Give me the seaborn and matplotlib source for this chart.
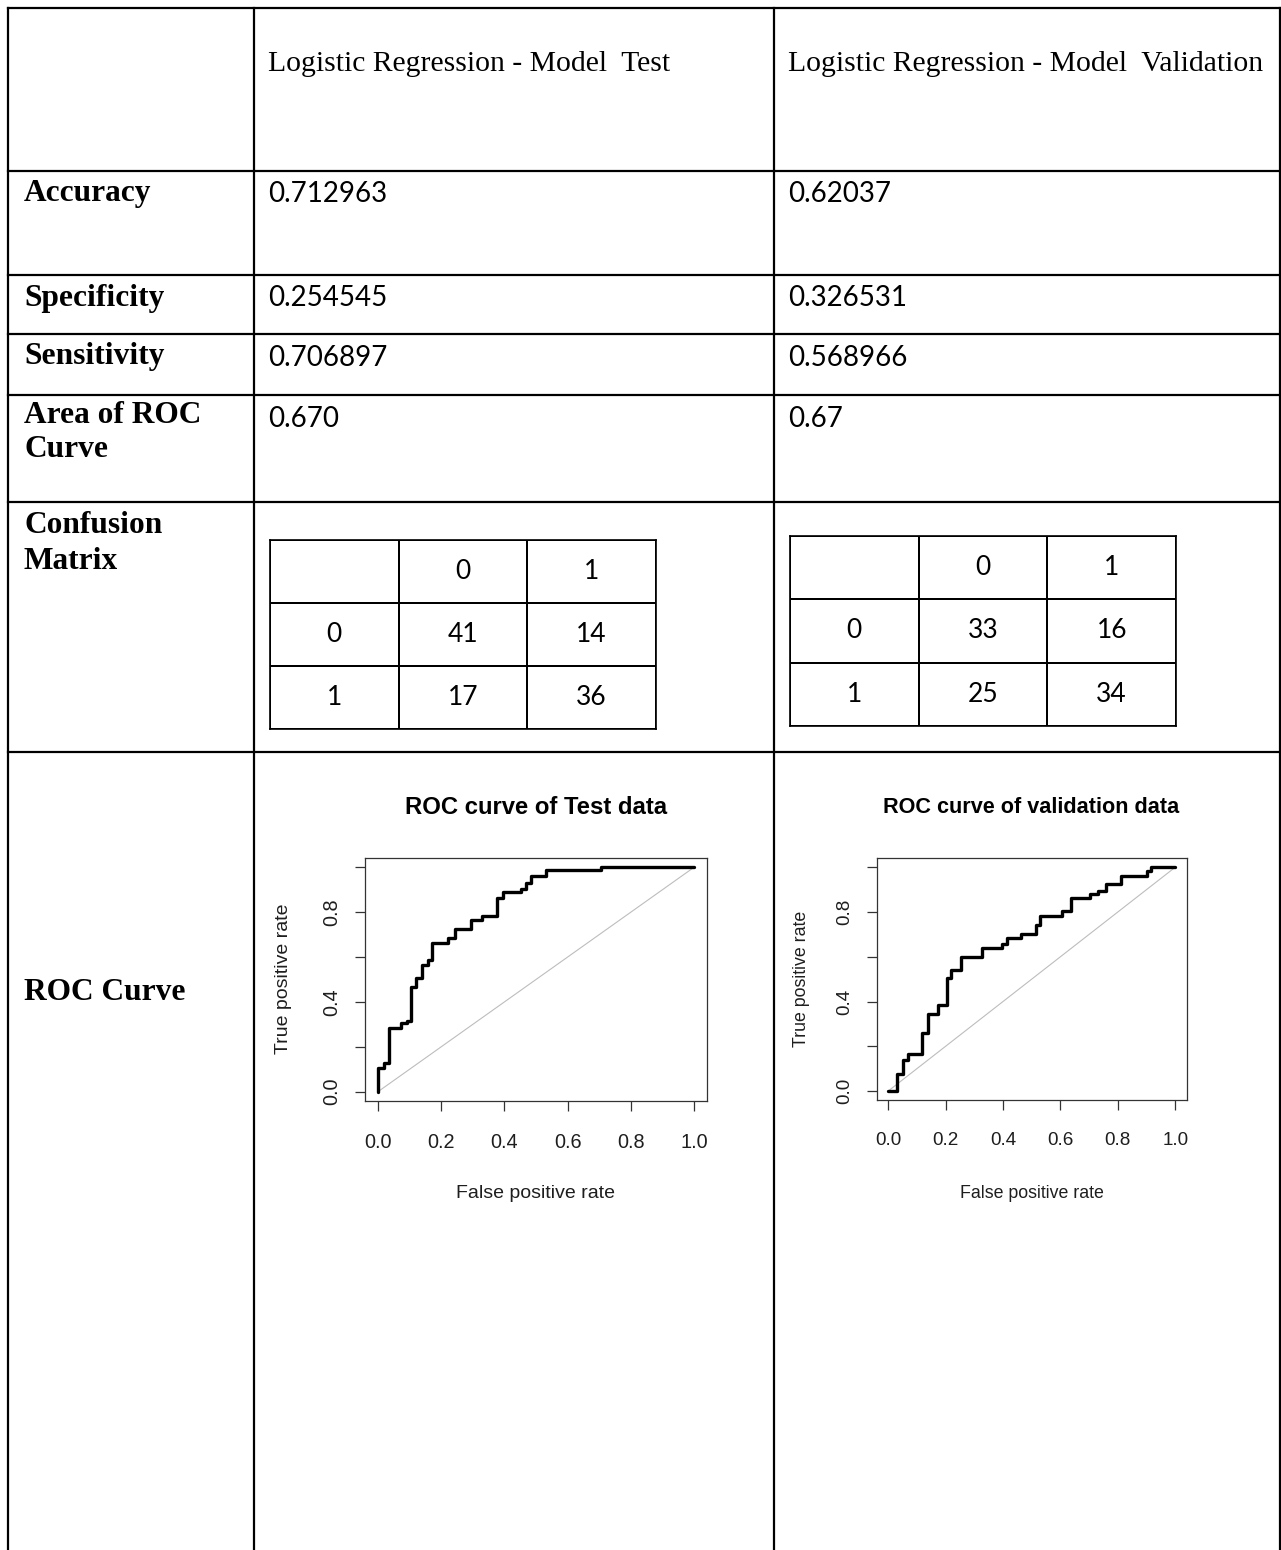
import numpy as np
import matplotlib
matplotlib.use("Agg")
import matplotlib.pyplot as plt
from matplotlib.colors import ListedColormap
import seaborn as sns

# ---- table content -------------------------------------------------------
col_headers = ["Logistic Regression - Model  Test", "Logistic Regression - Model  Validation"]
metric_names = ["Accuracy", "Specificity", "Sensitivity", "Area of ROC\nCurve"]
test_values = ["0.712963", "0.254545", "0.706897", "0.670"]
valid_values = ["0.62037", "0.326531", "0.568966", "0.67"]
cm_labels = ["0", "1"]
test_cm = [[41, 14], [17, 36]]
valid_cm = [[33, 16], [25, 34]]

# ---- ROC curves (step vertices: fpr where TPR rises, new TPR) -------------
test_fpr = [0.0, 0.0, 0.019, 0.035, 0.072, 0.093, 0.103, 0.119, 0.140, 0.159, 0.172,
            0.223, 0.243, 0.293, 0.329, 0.378, 0.397, 0.451, 0.467, 0.483, 0.533, 0.705, 1.0]
test_tpr = [0.0, 0.104, 0.129, 0.285, 0.305, 0.317, 0.465, 0.506, 0.565, 0.587, 0.662,
            0.684, 0.724, 0.764, 0.784, 0.865, 0.888, 0.904, 0.929, 0.962, 0.986, 1.0, 1.0]
valid_fpr = [0.0, 0.031, 0.052, 0.070, 0.118, 0.139, 0.172, 0.205, 0.220, 0.255, 0.327, 0.397,
             0.414, 0.464, 0.516, 0.530, 0.607, 0.636, 0.704, 0.731, 0.760, 0.810, 0.903, 0.914, 1.0]
valid_tpr = [0.0, 0.077, 0.137, 0.164, 0.261, 0.343, 0.383, 0.505, 0.539, 0.599, 0.641, 0.659,
             0.684, 0.703, 0.741, 0.781, 0.805, 0.863, 0.882, 0.894, 0.924, 0.961, 0.984, 1.0, 1.0]
roc_titles = ["ROC curve of Test data", "ROC curve of validation data"]

sns.set_style("white")
plt.rcParams["font.family"] = ["DejaVu Sans"]
plt.rcParams["text.color"] = "black"

W, H = 1281, 1550
DPI = 100
fig = plt.figure(figsize=(W / DPI, H / DPI), dpi=DPI)
fig.patch.set_facecolor("white")


def frac_box(left, top, right, bottom):
    return [left / W, 1 - bottom / H, (right - left) / W, (bottom - top) / H]


# background axes in pixel units for the table grid and cell text
bg = fig.add_axes([0, 0, 1, 1])
bg.set_xlim(0, W)
bg.set_ylim(H, 0)
bg.axis("off")

LW = 1.6
x_left, x_c1, x_c2, x_right = 8, 254, 774, 1280
y_top = 8
row_lines = [171, 275, 334, 395, 502, 752]
for y in [y_top] + row_lines:
    bg.plot([x_left, x_right], [y, y], color="black", lw=LW, solid_capstyle="projecting")
for x in [x_left, x_c1, x_c2, x_right]:
    bg.plot([x, x], [y_top, H], color="black", lw=LW, solid_capstyle="projecting")

serif = ["Liberation Serif", "DejaVu Serif"]
sans_val = ["Lato", "DejaVu Sans"]
BOLD_FS = 22.6

# column headers
bg.text(268, 71, col_headers[0], family=serif, fontsize=21.3, va="baseline", ha="left",
        color="black")
bg.text(788, 71, col_headers[1], family=serif, fontsize=21.3, va="baseline", ha="left",
        color="black")

# metric rows
label_baselines = [200.7, 305.7, 364.0, 423.3]
value_baselines = [202.5, 305.7, 366.0, 426.7]
for name, yb, yv, tv, vv in zip(metric_names, label_baselines, value_baselines,
                                test_values, valid_values):
    for k, line in enumerate(name.split("\n")):
        bg.text(24, yb + 33.4 * k, line, family=serif, fontweight="bold", fontsize=BOLD_FS,
                va="baseline", ha="left", color="black")
    bg.text(268, yv, tv, family=sans_val, fontsize=20, va="baseline", ha="left", color="black")
    bg.text(788, yv, vv, family=sans_val, fontsize=20, va="baseline", ha="left", color="black")

bg.text(24, 533.3, "Confusion", family=serif, fontweight="bold", fontsize=BOLD_FS,
        va="baseline", color="black")
bg.text(24, 569.3, "Matrix", family=serif, fontweight="bold", fontsize=BOLD_FS,
        va="baseline", color="black")
bg.text(24, 1000, "ROC Curve", family=serif, fontweight="bold", fontsize=BOLD_FS,
        va="baseline", color="black")


# ---- confusion matrices as 3x3 grids --------------------------------------
def draw_cm(box, cm):
    ax = fig.add_axes(frac_box(*box))
    grid = np.empty((3, 3), dtype=object)
    grid[0, 0] = ""
    grid[0, 1:] = cm_labels
    grid[1:, 0] = cm_labels
    grid[1:, 1:] = np.array(cm).astype(str)
    sns.heatmap(np.zeros((3, 3)), ax=ax, cmap=ListedColormap(["white"]), cbar=False,
                annot=grid, fmt="", linewidths=1.2, linecolor="black",
                annot_kws={"fontsize": 19, "color": "black", "family": sans_val})
    ax.set_xticks([])
    ax.set_yticks([])
    for s in ax.spines.values():
        s.set_visible(True)
        s.set_linewidth(1.2)
        s.set_color("black")


draw_cm((270, 540, 656, 729.3), test_cm)
draw_cm((790, 535.7, 1176, 726), valid_cm)

# ---- ROC plots ------------------------------------------------------------
arial = ["Liberation Sans", "DejaVu Sans"]
TXT = "#1e1e1e"


def draw_roc(box, fpr, tpr, title, title_xy, title_fs, xlab_xy, ylab_xy, lab_fs, tick_fs):
    ax = fig.add_axes(frac_box(*box))
    sns.lineplot(x=[0, 1], y=[0, 1], ax=ax, color="#bdbdbd", lw=0.8, sort=False,
                 estimator=None)
    sns.lineplot(x=fpr, y=tpr, ax=ax, color="black", lw=2.4, sort=False, estimator=None,
                 drawstyle="steps-post")
    ax.set_xlim(-0.04, 1.04)
    ax.set_ylim(-0.04, 1.04)
    ticks = [0.0, 0.2, 0.4, 0.6, 0.8, 1.0]
    ax.set_xticks(ticks)
    ax.set_xticklabels([f"{t:.1f}" for t in ticks], family=arial, fontsize=tick_fs, color=TXT)
    ax.set_yticks(ticks)
    ax.set_yticklabels([f"{t:.1f}" if i % 2 == 0 else "" for i, t in enumerate(ticks)],
                       family=arial, fontsize=tick_fs, color=TXT, rotation=90, va="center")
    ax.tick_params(axis="both", direction="out", length=7, width=0.9, color="#333333",
                   bottom=True, left=True)
    ax.tick_params(axis="x", pad=16)
    ax.tick_params(axis="y", pad=10)
    ax.set_xlabel("")
    ax.set_ylabel("")
    ax.grid(False)
    for s in ax.spines.values():
        s.set_visible(True)
        s.set_linewidth(0.9)
        s.set_color("#333333")
    fig.text(title_xy[0] / W, 1 - title_xy[1] / H, title, family=arial, fontweight="bold",
             fontsize=title_fs, ha="center", va="center", color="black")
    fig.text(xlab_xy[0] / W, 1 - xlab_xy[1] / H, "False positive rate", family=arial,
             fontsize=lab_fs, ha="center", va="center", color=TXT)
    fig.text(ylab_xy[0] / W, 1 - ylab_xy[1] / H, "True positive rate", family=arial,
             fontsize=lab_fs, ha="center", va="center", rotation=90, color=TXT)
    return ax


draw_roc((365.3, 858.3, 706.7, 1100.7), test_fpr, test_tpr, roc_titles[0],
         (536, 808), 17.2, (536, 1193), (284, 979), 14, 14.3)
draw_roc((876.7, 858.3, 1186.7, 1100.0), valid_fpr, valid_tpr, roc_titles[1],
         (1031, 808), 15.6, (1032, 1193), (801, 979), 12.8, 13.6)

fig.savefig("out.png", dpi=DPI, facecolor="white")
